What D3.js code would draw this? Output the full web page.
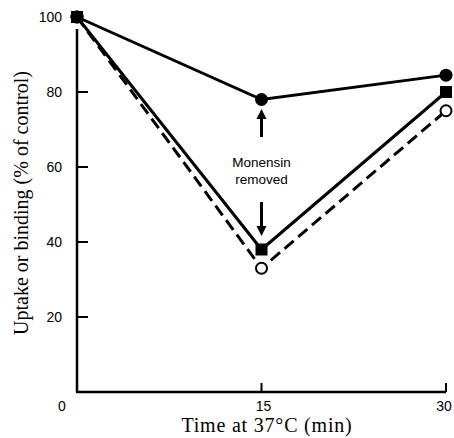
<!DOCTYPE html>
<html>
<head>
<meta charset="utf-8">
<script src="https://cdn.jsdelivr.net/npm/d3@7"></script>
<style>
  body { margin: 0; background: #fff; }
  svg { display: block; }
</style>
</head>
<body>
<script>
var times = [0, 15, 30];
var filledCircle = [100, 78, 84.5];
var filledSquare = [100, 38, 80];
var openCircle = [100, 33, 75];
var yTicks = [20, 40, 60, 80];
var xTicks = [15, 30];

var width = 454, height = 438;

var svg = d3.select("body").append("svg")
            .attr("width", width)
            .attr("height", height);

var xScale = d3.scaleLinear().domain([0, 30]).range([77, 446]);
var yScale = d3.scaleLinear().domain([0, 100]).range([392, 17]);

var line = d3.line()
             .x(function(d) { return xScale(d.t); })
             .y(function(d) { return yScale(d.v); });

var toPoints = function(vals)
{
  return vals.map(function(v, i) { return {t: times[i], v: v}; });
}

// axes
svg.append("line")
   .attr("x1", xScale(0)).attr("x2", xScale(0))
   .attr("y1", 29).attr("y2", yScale(0))
   .attr("stroke", "#000").attr("stroke-width", 2.5);

svg.append("line")
   .attr("x1", xScale(0) - 1).attr("x2", xScale(30))
   .attr("y1", yScale(0)).attr("y2", yScale(0))
   .attr("stroke", "#000").attr("stroke-width", 2.5);

svg.selectAll(".ytick")
   .data(yTicks)
   .enter().append("line")
   .attr("x1", xScale(0)).attr("x2", xScale(0) + 11)
   .attr("y1", function(d) { return yScale(d); })
   .attr("y2", function(d) { return yScale(d); })
   .attr("stroke", "#000").attr("stroke-width", 2);

svg.selectAll(".xtick")
   .data(xTicks)
   .enter().append("line")
   .attr("x1", function(d) { return xScale(d); })
   .attr("x2", function(d) { return xScale(d); })
   .attr("y1", yScale(0)).attr("y2", yScale(0) - 9)
   .attr("stroke", "#000").attr("stroke-width", 2);

var sans = "'Liberation Sans', Arial, sans-serif";
var serif = "'Liberation Serif', 'Times New Roman', serif";

svg.selectAll(".ylab")
   .data([20, 40, 60, 80, 100])
   .enter().append("text")
   .attr("x", xScale(0) - 15)
   .attr("y", function(d) { return yScale(d) + 5; })
   .attr("text-anchor", "end")
   .attr("font-family", sans)
   .attr("font-size", 14)
   .text(function(d) { return d; });

svg.append("text")
   .attr("x", 62).attr("y", yScale(0) + 19)
   .attr("text-anchor", "middle")
   .attr("font-family", sans)
   .attr("font-size", 14)
   .text("0");

svg.selectAll(".xlab")
   .data(xTicks)
   .enter().append("text")
   .attr("x", function(d) { return Math.min(xScale(d) + 2, width - 10); })
   .attr("y", yScale(0) + 19)
   .attr("text-anchor", "middle")
   .attr("font-family", sans)
   .attr("font-size", 14)
   .text(function(d) { return d; });

svg.append("text")
   .attr("x", 267).attr("y", 432)
   .attr("text-anchor", "middle")
   .attr("font-family", serif)
   .attr("font-size", 20)
   .attr("letter-spacing", 0.8)
   .text("Time at 37\u00b0C (min)");

svg.append("text")
   .attr("transform", "translate(28," + 203 + ") rotate(-90)")
   .attr("text-anchor", "middle")
   .attr("font-family", serif)
   .attr("font-size", 20)
   .text("Uptake or binding (% of control)");

// series lines
svg.append("path")
   .attr("d", line(toPoints(openCircle)))
   .attr("fill", "none").attr("stroke", "#000")
   .attr("stroke-width", 3)
   .attr("stroke-dasharray", "12,6");

svg.append("path")
   .attr("d", line(toPoints(filledSquare)))
   .attr("fill", "none").attr("stroke", "#000")
   .attr("stroke-width", 3);

svg.append("path")
   .attr("d", line(toPoints(filledCircle)))
   .attr("fill", "none").attr("stroke", "#000")
   .attr("stroke-width", 3);

// markers
svg.selectAll(".open")
   .data(toPoints(openCircle))
   .enter().append("circle")
   .attr("cx", function(d) { return xScale(d.t); })
   .attr("cy", function(d) { return yScale(d.v); })
   .attr("r", 5.5)
   .attr("fill", "#fff").attr("stroke", "#000").attr("stroke-width", 2);

svg.selectAll(".sq")
   .data(toPoints(filledSquare))
   .enter().append("rect")
   .attr("x", function(d) { return xScale(d.t) - 6; })
   .attr("y", function(d) { return yScale(d.v) - 6; })
   .attr("width", 12).attr("height", 12)
   .attr("fill", "#000");

svg.selectAll(".fc")
   .data(toPoints(filledCircle))
   .enter().append("circle")
   .attr("cx", function(d) { return xScale(d.t); })
   .attr("cy", function(d) { return yScale(d.v); })
   .attr("r", 6.5)
   .attr("fill", "#000");

// annotation
var ax = xScale(15);
var drawArrow = function(yFrom, yTo)
{
  var dir = yTo > yFrom ? 1 : -1;
  svg.append("line")
     .attr("x1", ax).attr("x2", ax)
     .attr("y1", yFrom).attr("y2", yTo - dir * 8)
     .attr("stroke", "#000").attr("stroke-width", 3);
  svg.append("path")
     .attr("d", "M" + (ax - 5) + "," + (yTo - dir * 10) + " L" + (ax + 5) + "," + (yTo - dir * 10) + " L" + ax + "," + yTo + " Z")
     .attr("fill", "#000");
}
drawArrow(137, 109);
drawArrow(202, 236);

svg.append("text")
   .attr("x", ax).attr("y", 167)
   .attr("text-anchor", "middle")
   .attr("font-family", sans)
   .attr("font-size", 13.5)
   .text("Monensin");
svg.append("text")
   .attr("x", ax).attr("y", 184)
   .attr("text-anchor", "middle")
   .attr("font-family", sans)
   .attr("font-size", 13.5)
   .text("removed");
</script>
</body>
</html>
